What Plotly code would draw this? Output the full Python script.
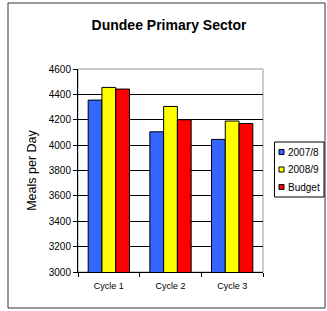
import plotly.graph_objects as go

categories = ["Cycle 1", "Cycle 2", "Cycle 3"]
s2007 = [4355, 4105, 4045]
s2008 = [4455, 4305, 4190]
budget = [4442, 4200, 4170]
series_names = ["2007/8", "2008/9", "Budget"]
colors = ["#3366FF", "#FFFF00", "#FF0000"]
y_ticks = [3000, 3200, 3400, 3600, 3800, 4000, 4200, 4400, 4600]

L, R, T, B = 78, 263, 69, 272
W, H = 327, 311

fig = go.Figure()
for name, vals, c in zip(series_names, [s2007, s2008, budget], colors):
    fig.add_trace(go.Bar(x=categories, y=vals, name=name, showlegend=False,
                         marker=dict(color=c, line=dict(color="black", width=1))))

def px_x(p):
    return (p - L) / (R - L)

def px_y(p):
    return (B - p) / (B - T)

shapes = [
    dict(type="rect", xref="paper", yref="paper", x0=px_x(8), x1=px_x(325), y0=px_y(308), y1=px_y(3),
         line=dict(color="#333", width=1), layer="below"),
    dict(type="rect", xref="paper", yref="paper", x0=0, x1=1, y0=0, y1=1,
         line=dict(color="#999", width=1), layer="below"),
    # legend box
    dict(type="rect", xref="paper", yref="paper", x0=px_x(274.5), x1=px_x(324), y0=px_y(197), y1=px_y(142),
         line=dict(color="black", width=1), fillcolor="white"),
]
annotations = []
rows = [152, 169.5, 187]
for name, c, ry in zip(series_names, colors, rows):
    shapes.append(dict(type="rect", xref="paper", yref="paper", x0=px_x(279), x1=px_x(284),
                       y0=px_y(ry + 2.5), y1=px_y(ry - 2.5), line=dict(color="black", width=1), fillcolor=c))
    annotations.append(dict(text=name, xref="paper", yref="paper", x=px_x(285.5), y=px_y(ry), xanchor="left",
                            yanchor="middle", showarrow=False, font=dict(size=10, color="black")))

fig.update_layout(
    width=W, height=H,
    margin=dict(l=L, r=W - R, t=T, b=H - B, pad=0, autoexpand=False),
    paper_bgcolor="white", plot_bgcolor="white",
    barmode="group", bargap=0.33, bargroupgap=0,
    font=dict(family="Liberation Sans, Arial", size=10, color="black"),
    title=dict(text="<b>Dundee Primary Sector</b>", x=169 / W, xanchor="center", y=1 - 25 / H, yanchor="middle",
               font=dict(size=14, color="black")),
    showlegend=False,
    shapes=shapes,
    annotations=annotations,
)
fig.update_yaxes(range=[3000, 4600], tickvals=y_ticks, showgrid=True, gridcolor="black", gridwidth=1,
                 ticks="outside", ticklen=4, tickcolor="black", showline=True, linecolor="black", linewidth=1,
                 tickfont=dict(size=10),
                 title=dict(text="Meals per Day", font=dict(size=12.5), standoff=9), zeroline=False,
                 automargin=False)
fig.update_xaxes(showline=True, linecolor="black", linewidth=1, ticks="outside", tickson="boundaries",
                 ticklen=4, tickcolor="black", showgrid=False, automargin=False, tickfont=dict(size=9),
                 ticklabelstandoff=5)

fig.write_html("out.html", config={"displayModeBar": False},
               post_script="document.body.style.margin='0';document.body.style.padding='0';")
